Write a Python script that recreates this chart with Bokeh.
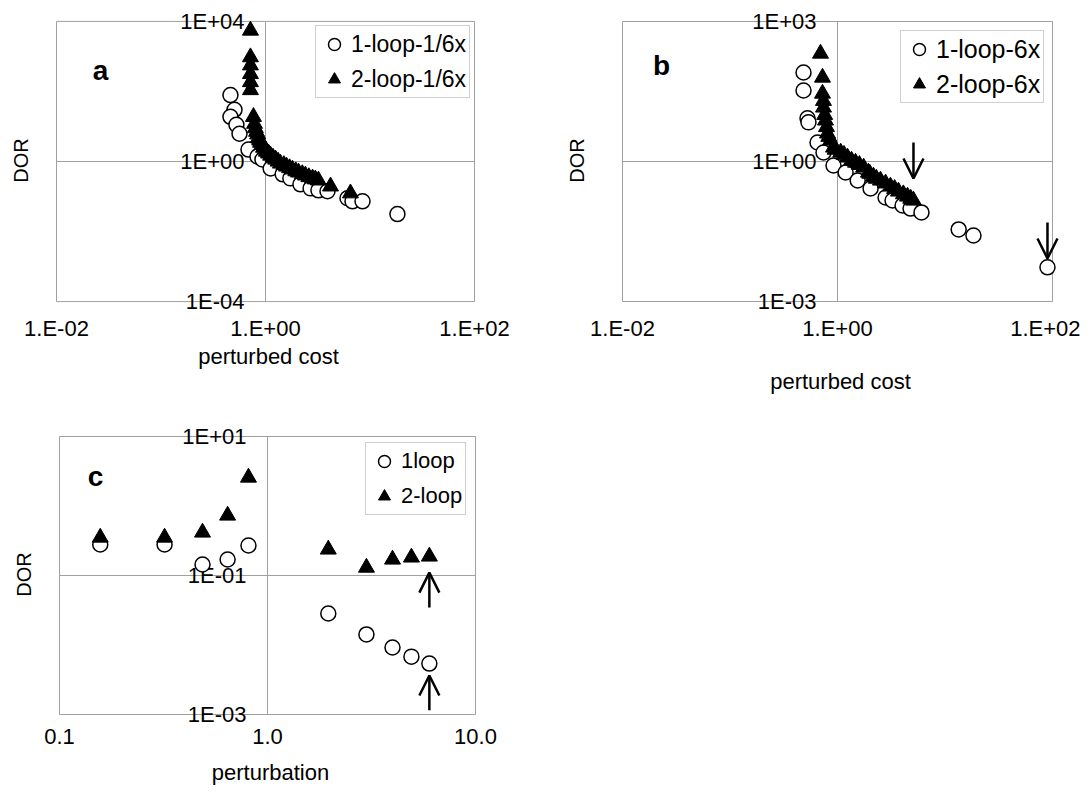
import math
from bokeh.plotting import figure
from bokeh.models import (ColumnDataSource, FixedTicker, CustomJSTickFormatter, Legend,
                          LegendItem, Label, Arrow, OpenHead, Range1d)
from bokeh.core.properties import value
from bokeh.layouts import column, row
from bokeh.embed import file_html
from bokeh.resources import INLINE

FONT = "Liberation Sans"
GRID = "#a0a0a0"

# ---------------- panel a ----------------
a_loop1_x = [0.462, 0.505, 0.462, 0.527, 0.564, 0.687, 0.838, 0.935, 1.12, 1.46, 1.73,
             2.16, 2.70, 3.21, 3.92, 6.09, 6.80, 8.48, 18.3]
a_loop1_y = [79, 29.9, 18.9, 11.2, 6.2, 2.19, 1.39, 1.14, 0.63, 0.43, 0.33,
             0.223, 0.171, 0.150, 0.141, 0.089, 0.073, 0.073, 0.0315]
a_loop2_x = [0.718, 0.718, 0.718, 0.718, 0.718, 0.718, 0.767, 0.785, 0.80, 0.82, 0.84,
             0.857, 0.88, 0.896, 0.93, 0.957, 1.0, 1.02, 1.07, 1.12, 1.18, 1.25, 1.32,
             1.39, 1.5, 1.59, 1.7, 1.81, 1.95, 2.07, 2.25, 2.41, 2.6, 2.82, 3.0, 3.21,
             4.19, 6.5]
a_loop2_y = [5500, 955, 560, 316, 186, 110, 18.9, 12, 9, 7.1, 6, 4.8, 4, 3.46, 3, 2.49,
             2.2, 1.92, 1.7, 1.48, 1.3, 1.14, 1.0, 0.877, 0.8, 0.721, 0.65, 0.593, 0.53,
             0.488, 0.44, 0.401, 0.36, 0.33, 0.31, 0.289, 0.195, 0.124]

# ---------------- panel b ----------------
b_loop1_x = [0.483, 0.483, 0.526, 0.537, 0.652, 0.741, 0.918, 1.19, 1.54, 2.03, 2.80,
             3.25, 4.03, 4.78, 6.04, 13.4, 18.4, 89.8]
b_loop1_y = [80.7, 33.2, 8.4, 6.9, 2.55, 1.56, 0.82, 0.58, 0.392, 0.264, 0.169,
             0.146, 0.114, 0.098, 0.081, 0.035, 0.026, 0.0054]
b_loop2_x = [0.695, 0.725, 0.725, 0.74, 0.741, 0.76, 0.773, 0.79, 0.807, 0.83, 0.861,
             0.918, 0.95, 1.07, 1.15, 1.24, 1.35, 1.47, 1.6, 1.75, 1.94, 2.0, 2.16, 2.3,
             2.51, 2.8, 3.11, 3.4, 3.69, 4.1, 4.48, 4.8, 5.09]
b_loop2_y = [206, 63, 28.6, 20, 14.4, 10, 7.6, 5.5, 4.0, 3.4, 2.82, 2.0, 1.8, 1.56,
             1.4, 1.22, 1.05, 0.95, 0.85, 0.745, 0.58, 0.55, 0.478, 0.43, 0.392, 0.34,
             0.292, 0.26, 0.228, 0.2, 0.178, 0.16, 0.146]
b_arrow_x = [5.09, 89.8]
b_arrow_y0 = [2.55, 0.0493]
b_arrow_y1 = [0.432, 0.00836]

# ---------------- panel c ----------------
c_x = [0.157, 0.32, 0.487, 0.643, 0.81, 1.96, 2.99, 3.99, 4.92, 6.0]
c_loop1_y = [0.279, 0.279, 0.144, 0.170, 0.270, 0.0284, 0.0142, 0.0092, 0.0068, 0.0054]
c_loop2_y = [0.352, 0.352, 0.416, 0.73, 2.57, 0.237, 0.130, 0.170, 0.182, 0.188]
c_arrow_x = [6.0, 6.0]
c_arrow_y0 = [0.0347, 0.00115]
c_arrow_y1 = [0.110, 0.00364]

# ---------------- axes limits & ticks ----------------
ab_xlim = (0.01, 100)
a_ylim = (1e-4, 1e4)
b_ylim = (1e-3, 1e3)
c_xlim = (0.1, 10)
c_ylim = (1e-3, 1e1)
ab_xticks = [0.01, 1, 100]
ab_xlabels = ["1.E-02", "1.E+00", "1.E+02"]
a_yticks = [1e4, 1, 1e-4]
a_ylabels = ["1E+04", "1E+00", "1E-04"]
b_yticks = [1e3, 1, 1e-3]
b_ylabels = ["1E+03", "1E+00", "1E-03"]
c_xticks = [0.1, 1, 10]
c_xlabels = ["0.1", "1.0", "10.0"]
c_yticks = [10, 0.1, 0.001]
c_ylabels = ["1E+01", "1E-01", "1E-03"]

FMT_CODE = """
let best = 0, bd = Infinity;
for (let i = 0; i < tv.length; i++) {
  const d = Math.abs(Math.log(tv[i]) - Math.log(tick));
  if (d < bd) { bd = d; best = i; }
}
return tl[best];
"""

# padding (px) of the bokeh frame around the drawn plot box
PAD_L, PAD_R, PAD_T, PAD_B = 4, 10, 12, 10


def extend(lim, pad_lo, pad_hi, npx):
    l0, l1 = math.log10(lim[0]), math.log10(lim[1])
    d = (l1 - l0) / npx
    return (10 ** (l0 - pad_lo * d), 10 ** (l1 + pad_hi * d))


def make_panel(w, h, box_left, box_top, box_w, box_h, xlim, ylim, xticks, xlabels,
               yticks, ylabels, xcross, ycross, xlabel, tick_standoff, xlabel_standoff,
               dor_standoff):
    fl = box_left - PAD_L
    ft = box_top - PAD_T
    fw = box_w + PAD_L + PAD_R
    fh = box_h + PAD_T + PAD_B
    p = figure(width=w, height=h, x_axis_type="log", y_axis_type="log",
               x_range=Range1d(*extend(xlim, PAD_L, PAD_R, box_w)),
               y_range=Range1d(*extend(ylim, PAD_B, PAD_T, box_h)),
               min_border_left=fl, min_border_right=w - fl - fw, min_border_top=ft,
               min_border_bottom=h - ft - fh, output_backend="svg", toolbar_location=None)
    p.background_fill_color = "white"
    p.border_fill_color = "white"
    p.outline_line_color = None
    p.xgrid.visible = False
    p.ygrid.visible = False

    xa = p.xaxis[0]
    xa.ticker = FixedTicker(ticks=xticks)
    xa.formatter = CustomJSTickFormatter(args=dict(tv=xticks, tl=xlabels), code=FMT_CODE)
    xa.major_tick_out = 0
    xa.major_tick_in = 0
    xa.minor_tick_out = 0
    xa.minor_tick_in = 0
    xa.axis_line_color = None
    xa.major_label_text_font = FONT
    xa.major_label_text_font_size = "22px"
    xa.major_label_text_color = "black"
    xa.major_label_standoff = tick_standoff
    xa.axis_label = xlabel
    xa.axis_label_text_font = FONT
    xa.axis_label_text_font_size = "22px"
    xa.axis_label_text_font_style = "normal"
    xa.axis_label_text_color = "black"
    xa.axis_label_standoff = xlabel_standoff

    ya = p.yaxis[0]
    ya.ticker = FixedTicker(ticks=[])
    ya.major_tick_out = 0
    ya.major_tick_in = 0
    ya.minor_tick_out = 0
    ya.minor_tick_in = 0
    ya.major_label_standoff = 0
    ya.axis_line_color = None
    ya.axis_label = "DOR"
    ya.axis_label_text_font = FONT
    ya.axis_label_text_font_size = "20px"
    ya.axis_label_text_font_style = "normal"
    ya.axis_label_text_color = "black"
    ya.axis_label_standoff = dor_standoff

    # plot-area box and the two crossing grid lines
    p.quad(left=[xlim[0]], right=[xlim[1]], bottom=[ylim[0]], top=[ylim[1]],
           fill_color=None, line_color=GRID, line_width=1)
    p.segment(x0=[xlim[0], xcross], y0=[ycross, ylim[0]], x1=[xlim[1], xcross],
              y1=[ycross, ylim[1]], line_color=GRID, line_width=1)

    # y tick labels sit on the vertical axis at x = xcross
    p.text(x=[xcross] * len(yticks), y=yticks, text=ylabels, x_offset=-21,
           text_align="right", text_baseline="middle", text_font=value(FONT),
           text_font_size=value("22px"), text_color="black")
    return p, fl, ft + fh


def add_series(p, x1, y1, x2, y2, labels, loc, font_size):
    r1 = p.scatter(x1, y1, marker="circle", size=15, fill_color="white",
                   line_color="black", line_width=1.5)
    r2 = p.scatter(x2, y2, marker="triangle", size=16, fill_color="black",
                   line_color="black", line_width=1)
    leg = Legend(items=[LegendItem(label=labels[0], renderers=[r1]),
                        LegendItem(label=labels[1], renderers=[r2])],
                 location=loc, orientation="vertical", padding=3, spacing=5,
                 glyph_width=30, glyph_height=30, label_height=30, label_standoff=2,
                 label_text_font=FONT, label_text_font_size=font_size,
                 label_text_color="black", border_line_color=GRID, border_line_width=1,
                 background_fill_color="white", background_fill_alpha=1, margin=0)
    p.add_layout(leg)


def add_letter(p, txt, sx, sy):
    p.add_layout(Label(x=sx, y=sy, x_units="screen", y_units="screen", text=txt,
                       text_font=FONT, text_font_style="bold", text_font_size="28px",
                       text_align="center", text_baseline="middle", text_color="black"))


def add_arrows(p, xs, y0, y1):
    src = ColumnDataSource(dict(x=xs, y0=y0, y1=y1))
    p.add_layout(Arrow(end=OpenHead(size=20, line_width=2.5, line_color="black"),
                       x_start="x", y_start="y0", x_end="x", y_end="y1", source=src,
                       line_width=2.5, line_color="black"))


# panel a: plot box 56..474 x 19..301
pa, fla, fba = make_panel(560, 400, 56, 19, 418, 282, ab_xlim, a_ylim, ab_xticks, ab_xlabels,
                          a_yticks, a_ylabels, 1, 1, "perturbed cost", 4, 0, 21)
add_series(pa, a_loop1_x, a_loop1_y, a_loop2_x, a_loop2_y,
           ["1-loop-1/6x", "2-loop-1/6x"], (315 - fla, fba - 98), "23px")
add_letter(pa, "a", 100 - fla, fba - 70)

# panel b: plot box 622..1052 x 21..301 (figure starts at x = 560)
pb, flb, fbb = make_panel(520, 400, 62, 21, 430, 280, ab_xlim, b_ylim, ab_xticks, ab_xlabels,
                          b_yticks, b_ylabels, 1, 1, "perturbed cost", 4, 25, 31)
add_series(pb, b_loop1_x, b_loop1_y, b_loop2_x, b_loop2_y,
           ["1-loop-6x", "2-loop-6x"], (900 - 560 - flb, fbb - 103), "25px")
add_letter(pb, "b", 661 - 560 - flb, fbb - 65)
add_arrows(pb, b_arrow_x, b_arrow_y0, b_arrow_y1)

# panel c: plot box 59..475 x 436..714 (figure starts at y = 400)
pc, flc, fbc = make_panel(525, 392, 59, 36, 416, 278, c_xlim, c_ylim, c_xticks, c_xlabels,
                          c_yticks, c_ylabels, 1, 0.1, "perturbation", 4, 13, 21)
add_series(pc, c_x, c_loop1_y, c_x, c_loop2_y, ["1loop", "2-loop"],
           (365 - flc, fbc - 515 + 400), "22px")
add_letter(pc, "c", 95 - flc, fbc - 476 + 400)
add_arrows(pc, c_arrow_x, c_arrow_y0, c_arrow_y1)

layout = column(row(pa, pb), pc)
open("out.html", "w").write(file_html(layout, INLINE))
